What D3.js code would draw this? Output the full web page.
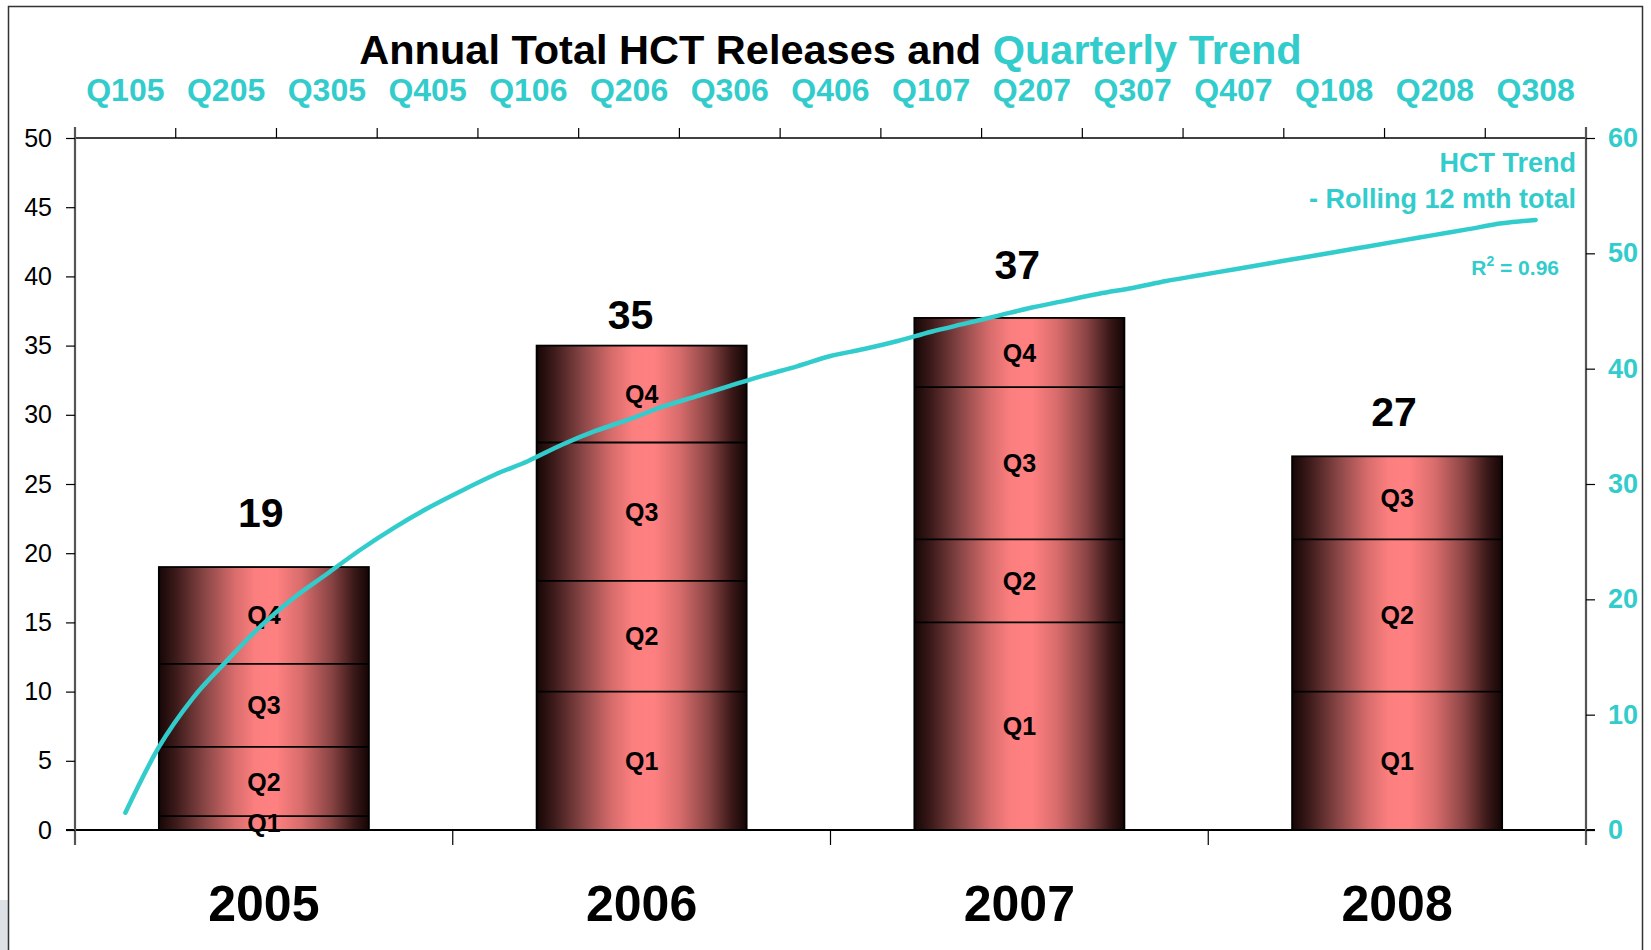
<!DOCTYPE html>
<html>
<head>
<meta charset="utf-8">
<script src="https://cdn.jsdelivr.net/npm/d3@7"></script>
<style>
  html, body { margin: 0; padding: 0; background: #ffffff; }
  svg { display: block; font-family: "Liberation Sans", Arial, Helvetica, sans-serif; }
</style>
</head>
<body>
<svg id="chart" width="1651" height="950"></svg>
<script>
// ---------------- DATA ----------------
const years = ["2005", "2006", "2007", "2008"];
const quarterKeys = ["Q1", "Q2", "Q3", "Q4"];
const q1Values = [1, 10, 15, 10];
const q2Values = [5, 8, 6, 11];
const q3Values = [6, 10, 11, 6];
const q4Values = [7, 7, 5, 0];
const annualTotals = [19, 35, 37, 27];
const quarterLabels = ["Q105", "Q205", "Q305", "Q405", "Q106", "Q206", "Q306", "Q406",
                       "Q107", "Q207", "Q307", "Q407", "Q108", "Q208", "Q308"];
// rolling 12 month total, one reading per month from mid Q1 2005 to mid Q3 2008
const trendValues = [1.5, 7.2, 11.4, 14.6, 17.6, 20.1, 22.2, 24.3, 26.2, 27.9, 29.4, 30.8,
                     32.0, 33.4, 34.6, 35.6, 36.7, 37.6, 38.5, 39.4, 40.2, 41.1, 41.7, 42.4,
                     43.2, 43.9, 44.6, 45.3, 45.9, 46.5, 47.0, 47.6, 48.1, 48.6, 49.1, 49.6,
                     50.1, 50.6, 51.1, 51.6, 52.1, 52.6, 52.9];
const leftTicks = [0, 5, 10, 15, 20, 25, 30, 35, 40, 45, 50];
const rightTicks = [0, 10, 20, 30, 40, 50, 60];

// ---------------- LAYOUT ----------------
const teal = "#33CCCC";
const plot = { left: 75, right: 1586, top: 138, bottom: 830 };
const barFraction = 0.556;
// hand-placed total labels in the original: [dx, gap above bar top] in px
const totalLabelNudge = [[-3, 40], [-11, 17], [-2, 39], [-3, 30]];

const svg = d3.select("#chart");

// frame
svg.append("rect").attr("x", 0).attr("y", 900).attr("width", 8).attr("height", 50).attr("fill", "#dde0e4");
svg.append("rect").attr("x", 8.5).attr("y", 6.5).attr("width", 1634).attr("height", 1000)
  .attr("fill", "none").attr("stroke", "#333").attr("stroke-width", 1.5);

// ---------------- SCALES ----------------
const xYear = d3.scaleBand().domain(years).range([plot.left, plot.right]).padding(0);
const xQuarter = d3.scaleBand().domain(quarterLabels).range([plot.left, plot.right]).padding(0);
const xMonth = d3.scaleLinear().domain([0, quarterLabels.length * 3]).range([plot.left, plot.right]);
const yLeft = d3.scaleLinear().domain([0, 50]).range([plot.bottom, plot.top]);
const yRight = d3.scaleLinear().domain([0, 60]).range([plot.bottom, plot.top]);

// ---------------- GRADIENT ----------------
const defs = svg.append("defs");
const grad = defs.append("linearGradient").attr("id", "barGrad")
  .attr("x1", "0%").attr("x2", "100%").attr("y1", "0%").attr("y2", "0%");
[[0, "#160606"], [0.08, "#3c1a1a"], [0.22, "#8a4646"], [0.36, "#d86c6c"], [0.46, "#fc7f7f"],
 [0.56, "#ff8080"], [0.68, "#d86c6c"], [0.82, "#8a4444"], [0.93, "#3a1818"], [1, "#140505"]]
  .forEach(([o, c]) => grad.append("stop").attr("offset", o).attr("stop-color", c));

// ---------------- BARS ----------------
const rows = years.map((y, i) => ({ year: y, Q1: q1Values[i], Q2: q2Values[i], Q3: q3Values[i], Q4: q4Values[i] }));
const stacked = d3.stack().keys(quarterKeys)(rows);
const barW = xYear.bandwidth() * barFraction;
const barX = y => xYear(y) + (xYear.bandwidth() - barW) / 2;

const segs = [];
stacked.forEach(layer => layer.forEach(d => {
  if (d[1] - d[0] > 0) segs.push({ key: layer.key, year: d.data.year, y0: d[0], y1: d[1] });
}));

const barG = svg.append("g");
barG.selectAll("rect.bar").data(rows).join("rect")
  .attr("class", "bar")
  .attr("x", d => barX(d.year))
  .attr("width", barW)
  .attr("y", (d, i) => yLeft(annualTotals[i]))
  .attr("height", (d, i) => yLeft(0) - yLeft(annualTotals[i]))
  .attr("fill", "url(#barGrad)")
  .attr("stroke", "#000").attr("stroke-width", 1.8);

barG.selectAll("line.div").data(segs.filter(s => s.y0 > 0)).join("line")
  .attr("class", "div")
  .attr("x1", d => barX(d.year)).attr("x2", d => barX(d.year) + barW)
  .attr("y1", d => yLeft(d.y0)).attr("y2", d => yLeft(d.y0))
  .attr("stroke", "#000").attr("stroke-width", 1.8);

barG.selectAll("text.seg").data(segs).join("text")
  .attr("class", "seg")
  .attr("x", d => xYear(d.year) + xYear.bandwidth() / 2)
  .attr("y", d => yLeft((d.y0 + d.y1) / 2))
  .attr("dy", "0.36em")
  .attr("text-anchor", "middle")
  .attr("font-size", 25).attr("font-weight", "bold").attr("fill", "#000")
  .text(d => d.key);

// ---------------- AXES ----------------
svg.append("line").attr("x1", plot.left - 9).attr("x2", plot.right + 9)
  .attr("y1", plot.bottom).attr("y2", plot.bottom).attr("stroke", "#000").attr("stroke-width", 2.2);
svg.append("line").attr("x1", plot.left).attr("x2", plot.right)
  .attr("y1", plot.top).attr("y2", plot.top).attr("stroke", "#000").attr("stroke-width", 1.3);

const leftAxis = svg.append("g").attr("transform", `translate(${plot.left},0)`)
  .call(d3.axisLeft(yLeft).tickValues(leftTicks).tickSize(9).tickPadding(14).tickSizeOuter(0));
leftAxis.select(".domain").attr("stroke", "#555").attr("stroke-width", 2.2)
  .attr("d", `M0,${plot.top - 11}V${plot.bottom + 15}`);
leftAxis.selectAll(".tick line").attr("stroke", "#000").attr("stroke-width", 1.2);
leftAxis.selectAll(".tick text").attr("font-size", 25).attr("fill", "#000")
  .attr("font-family", "'Liberation Sans', Arial, sans-serif");

const rightAxis = svg.append("g").attr("transform", `translate(${plot.right},0)`)
  .call(d3.axisRight(yRight).tickValues(rightTicks).tickSize(9).tickPadding(13).tickSizeOuter(0));
rightAxis.select(".domain").attr("stroke", "#555").attr("stroke-width", 2.2)
  .attr("d", `M0,${plot.top - 11}V${plot.bottom + 15}`);
rightAxis.selectAll(".tick line").attr("stroke", "#000").attr("stroke-width", 1.2);
rightAxis.selectAll(".tick text").attr("font-size", 27).attr("font-weight", "bold").attr("fill", teal)
  .attr("font-family", "'Liberation Sans', Arial, sans-serif");

// top quarter ticks (at band boundaries) and labels
const qBounds = quarterLabels.map(q => xQuarter(q)).concat([xQuarter.range()[1]]);
svg.append("g").selectAll("line").data(qBounds.slice(1, -1)).join("line")
  .attr("x1", d => d).attr("x2", d => d)
  .attr("y1", plot.top).attr("y2", plot.top - 10)
  .attr("stroke", "#000").attr("stroke-width", 1.2);
svg.append("g").selectAll("text").data(quarterLabels).join("text")
  .attr("x", d => xQuarter(d) + xQuarter.bandwidth() / 2)
  .attr("y", 101)
  .attr("text-anchor", "middle")
  .attr("font-size", 32).attr("font-weight", "bold").attr("fill", teal)
  .text(d => d);

// bottom year ticks (boundaries) and labels
const yBounds = years.map(y => xYear(y)).concat([xYear.range()[1]]);
svg.append("g").selectAll("line").data(yBounds.slice(1, -1)).join("line")
  .attr("x1", d => d).attr("x2", d => d)
  .attr("y1", plot.bottom).attr("y2", plot.bottom + 15)
  .attr("stroke", "#000").attr("stroke-width", 1.2);
svg.append("g").selectAll("text").data(years).join("text")
  .attr("x", d => xYear(d) + xYear.bandwidth() / 2)
  .attr("y", 921)
  .attr("text-anchor", "middle")
  .attr("font-size", 50).attr("font-weight", "bold").attr("fill", "#000")
  .text(d => d);

// ---------------- TREND LINE ----------------
const line = d3.line()
  .x((d, i) => xMonth(1.5 + i))
  .y(d => yRight(d))
  .curve(d3.curveMonotoneX);
svg.append("path").datum(trendValues)
  .attr("d", line)
  .attr("fill", "none").attr("stroke", teal).attr("stroke-width", 4.5)
  .attr("stroke-linecap", "round").attr("stroke-linejoin", "round");

// ---------------- TOTAL LABELS ----------------
svg.append("g").selectAll("text").data(annualTotals).join("text")
  .attr("x", (d, i) => xYear(years[i]) + xYear.bandwidth() / 2 + totalLabelNudge[i][0])
  .attr("y", (d, i) => yLeft(d) - totalLabelNudge[i][1])
  .attr("text-anchor", "middle")
  .attr("font-size", 41).attr("font-weight", "bold").attr("fill", "#000")
  .text(d => d);

// ---------------- TITLE ----------------
const title = svg.append("text").attr("x", (plot.left + plot.right) / 2).attr("y", 64)
  .attr("text-anchor", "middle").attr("font-size", 41.5).attr("font-weight", "bold");
title.append("tspan").attr("fill", "#000").text("Annual Total HCT Releases and ");
title.append("tspan").attr("fill", teal).text("Quarterly Trend");

// ---------------- LEGEND ----------------
const leg = svg.append("g").attr("fill", teal).attr("font-weight", "bold").attr("text-anchor", "end");
leg.append("text").attr("x", 1576).attr("y", 172).attr("font-size", 27).text("HCT Trend");
leg.append("text").attr("x", 1576).attr("y", 208).attr("font-size", 27).text("- Rolling 12 mth total");
const r2 = leg.append("text").attr("x", 1559).attr("y", 275).attr("font-size", 21);
r2.append("tspan").text("R");
r2.append("tspan").attr("font-size", 14).attr("dy", -9).text("2");
r2.append("tspan").attr("dy", 9).text(" = 0.96");
</script>
</body>
</html>
